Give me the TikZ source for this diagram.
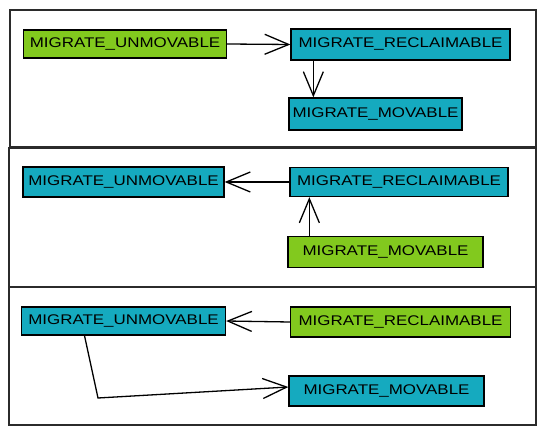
\documentclass[tikz,border=0pt]{standalone}
\usepackage{fontspec}
\newfontfamily\boxfont{Liberation Sans}[FakeStretch=1.21]
\usetikzlibrary{arrows.meta}
\definecolor{cyanfill}{HTML}{15AABF}
\definecolor{greenfill}{HTML}{82C91E}
\definecolor{framecol}{HTML}{2B2B2B}
\begin{document}
\begin{tikzpicture}[x=1pt,y=-1pt,
  block/.style={draw=black, line width=1.3pt, inner sep=0pt,
    font=\boxfont\fontsize{14}{16}\selectfont, text=black},
  cyanbox/.style={block, fill=cyanfill},
  greenbox/.style={block, fill=greenfill},
  panel/.style={draw=framecol, line width=1.2pt, inner sep=0pt},
  link/.style={draw=black, line width=1.3pt,
    -{Straight Barb[length=24pt,width=20pt,line width=1.3pt]}}]
\useasboundingbox[fill=white] (0,0) rectangle (546,435);
% panels
\node[panel, minimum width=526pt, minimum height=137pt] (p1) at (273,78.5) {};
\node[panel, minimum width=527pt, minimum height=138.5pt] (p2) at (272.5,217.25) {};
\node[panel, minimum width=527pt, minimum height=138pt] (p3) at (272.5,356) {};
% panel 1
\node[greenbox, minimum width=203pt, minimum height=28pt] (u1) at (125,44) {MIGRATE\_UNMOVABLE};
\node[cyanbox, minimum width=219pt, minimum height=31pt] (r1) at (400.5,44.5) {MIGRATE\_RECLAIMABLE};
\node[cyanbox, minimum width=173pt, minimum height=32pt] (m1) at (375.5,114) {MIGRATE\_MOVABLE};
% panel 2
\node[cyanbox, minimum width=201pt, minimum height=30pt] (u2) at (123.5,182) {MIGRATE\_UNMOVABLE};
\node[cyanbox, minimum width=218pt, minimum height=29pt] (r2) at (399,182) {MIGRATE\_RECLAIMABLE};
\node[greenbox, minimum width=195pt, minimum height=31pt] (m2) at (385.5,252) {MIGRATE\_MOVABLE};
% panel 3
\node[cyanbox, minimum width=204pt, minimum height=28pt] (u3) at (123.5,321) {MIGRATE\_UNMOVABLE};
\node[greenbox, minimum width=220pt, minimum height=30pt] (r3) at (400.5,322) {MIGRATE\_RECLAIMABLE};
\node[cyanbox, minimum width=195pt, minimum height=30pt] (m3) at (386.5,391) {MIGRATE\_MOVABLE};
% connectors
\draw[link] (u1.east) -- (r1.west);
\draw[link] ([xshift=23pt]r1.south west) -- ([xshift=25pt]m1.north west);
\draw[link] (r2.west) -- (u2.east);
\draw[link] ([xshift=22pt]m2.north west) -- ([xshift=20pt]r2.south west);
\draw[link] (r3.west) -- (u3.east);
\coordinate (bend3) at (98,398);
\draw[link] ([xshift=-39pt]u3.south) -- (bend3) -- ([yshift=4pt]m3.west);
\end{tikzpicture}
\end{document}
